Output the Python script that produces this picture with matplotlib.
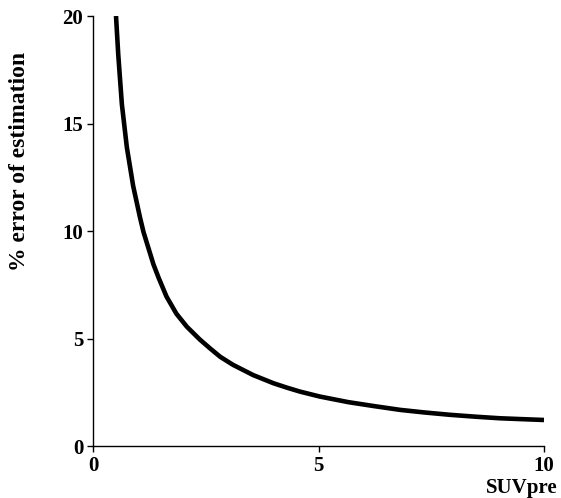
import matplotlib
matplotlib.use("Agg")
import matplotlib.pyplot as plt

suv_pre = [0.51, 0.56, 0.64, 0.75, 0.89, 1.04, 1.12, 1.23, 1.34, 1.45, 1.63,
           1.85, 2.08, 2.37, 2.59, 2.82, 3.10, 3.55, 4.00, 4.29, 4.59, 5.03,
           5.66, 6.25, 6.81, 7.35, 7.92, 8.50, 9.02, 9.50, 10.0]
pct_error = [20.0, 18.2, 15.9, 13.9, 12.1, 10.65, 9.95, 9.2, 8.45, 7.85, 6.95,
             6.15, 5.55, 4.95, 4.55, 4.15, 3.78, 3.3, 2.92, 2.72, 2.53, 2.30,
             2.04, 1.85, 1.68, 1.56, 1.45, 1.36, 1.29, 1.25, 1.21]
x_ticks = [0, 5, 10]
y_ticks = [0, 5, 10, 15, 20]

plt.rcParams['font.family'] = ['Liberation Serif', 'DejaVu Serif']
plt.rcParams['font.weight'] = 'bold'

fig = plt.figure(figsize=(5.61, 4.98), dpi=100)
ax = fig.add_axes([93/561, 52/498, (544-93)/561, (446-16)/498])
ax.plot(suv_pre, pct_error, color='black', lw=3.3,
        solid_capstyle='butt', solid_joinstyle='round')
ax.set_xlim(0, 10)
ax.set_ylim(0, 20)
ax.set_xticks(x_ticks)
ax.set_yticks(y_ticks)
ax.set_xticklabels([str(t) for t in x_ticks], fontsize=15, fontweight='bold')
ax.set_yticklabels([str(t) for t in y_ticks], fontsize=15, fontweight='bold')
for s in ['top', 'right']:
    ax.spines[s].set_visible(False)
for s in ['left', 'bottom']:
    ax.spines[s].set_linewidth(1.0)
ax.tick_params(axis='both', length=4, width=1, direction='out', pad=3)
fig.text(20/561, 1 - 161/498, '% error of estimation', rotation=90,
         ha='center', va='center', fontsize=17, fontweight='bold')
fig.text(558/561, 1 - 488/498, 'SUVpre', ha='right', va='center',
         fontsize=15, fontweight='bold')
fig.savefig('out.png', dpi=100, facecolor='white')
